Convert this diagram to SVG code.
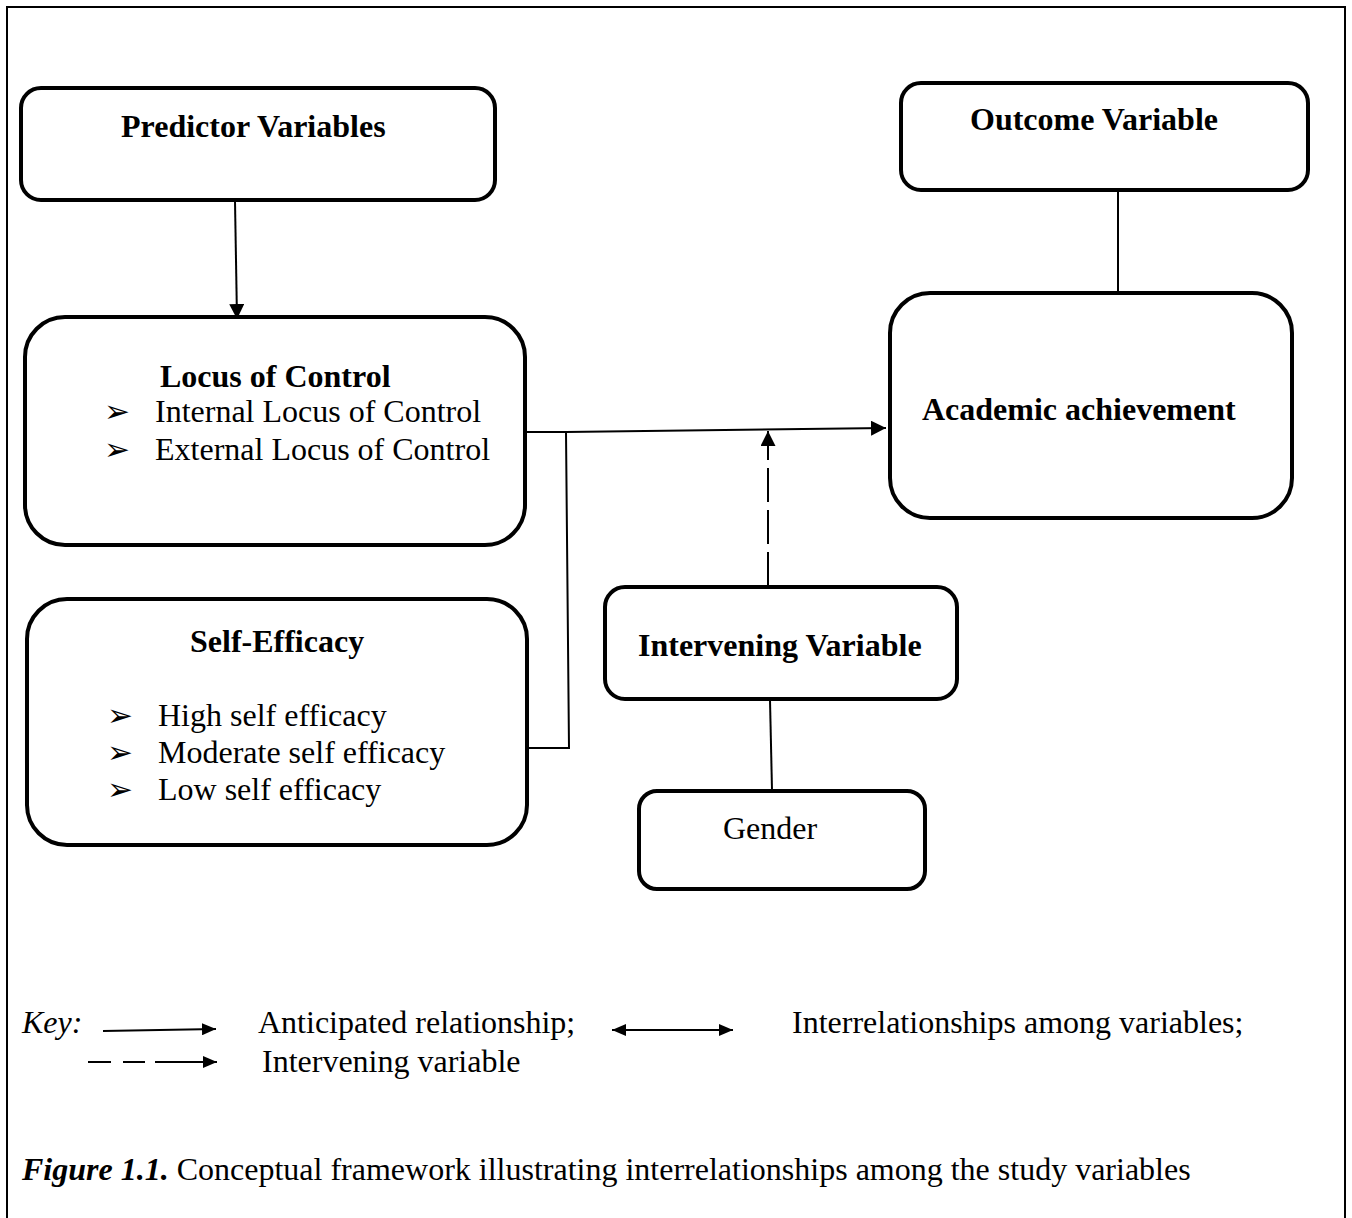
<svg xmlns="http://www.w3.org/2000/svg" width="1352" height="1218" viewBox="0 0 1352 1218">
<style>
  .box { fill: #ffffff; stroke: #000000; stroke-width: 4; }
  .ln { fill: none; stroke: #000000; stroke-width: 2; }
  .t { font-family: "Liberation Serif", "Times New Roman", serif; font-size: 32px; fill: #000000; }
  .b { font-weight: bold; }
  .bul { font-family: "DejaVu Sans", sans-serif; font-size: 31px; fill: #000000; }
</style>
<defs>
  <marker id="ah" viewBox="0 0 10 10" refX="10" refY="5" markerWidth="15" markerHeight="15" markerUnits="userSpaceOnUse" orient="auto-start-reverse">
    <path d="M0,0 L10,5 L0,10 z" fill="#000000"/>
  </marker>
  <marker id="ahs" viewBox="0 0 10 10" refX="10" refY="5" markerWidth="14" markerHeight="12" markerUnits="userSpaceOnUse" orient="auto-start-reverse" preserveAspectRatio="none">
    <path d="M0,0 L10,5 L0,10 z" fill="#000000"/>
  </marker>
</defs>
<rect width="1352" height="1218" fill="#ffffff"/>
<path class="ln" d="M7,1218 V7 H1345 V1218"/>

<g id="predictor">
  <rect class="box" x="21" y="88" width="474" height="112" rx="20"/>
  <text class="t b" x="121" y="137">Predictor Variables</text>
</g>
<g id="outcome">
  <rect class="box" x="901" y="83" width="407" height="107" rx="20"/>
  <text class="t b" x="970" y="130">Outcome Variable</text>
</g>
<g id="locus">
  <rect class="box" x="25" y="317" width="500" height="228" rx="40"/>
  <text class="t b" x="160" y="387">Locus of Control</text>
  <text class="bul" x="104" y="422">➢</text>
  <text class="t" x="155" y="422">Internal Locus of Control</text>
  <text class="bul" x="104" y="460">➢</text>
  <text class="t" x="155" y="460">External Locus of Control</text>
</g>
<g id="academic">
  <rect class="box" x="890" y="293" width="402" height="225" rx="40"/>
  <text class="t b" x="922" y="420">Academic achievement</text>
</g>
<g id="selfefficacy">
  <rect class="box" x="27" y="599" width="500" height="246" rx="40"/>
  <text class="t b" x="190" y="652">Self-Efficacy</text>
  <text class="bul" x="107" y="726">➢</text>
  <text class="t" x="158" y="726">High self efficacy</text>
  <text class="bul" x="107" y="763">➢</text>
  <text class="t" x="158" y="763">Moderate self efficacy</text>
  <text class="bul" x="107" y="800">➢</text>
  <text class="t" x="158" y="800">Low self efficacy</text>
</g>
<g id="intervening">
  <rect class="box" x="605" y="587" width="352" height="112" rx="20"/>
  <text class="t b" x="638" y="656">Intervening Variable</text>
</g>
<g id="gender">
  <rect class="box" x="639" y="791" width="286" height="98" rx="18"/>
  <text class="t" x="723" y="839">Gender</text>
</g>

<g id="connectors">
  <line class="ln" x1="235" y1="201" x2="237" y2="319" marker-end="url(#ah)"/>
  <line class="ln" x1="1118" y1="191" x2="1118" y2="292"/>
  <path class="ln" d="M527,432 H566 L886,428" marker-end="url(#ah)"/>
  <path class="ln" d="M566,432 L569,748 H529"/>
  <line class="ln" x1="768" y1="586" x2="768" y2="431" stroke-dasharray="34,8" marker-end="url(#ah)"/>
  <line class="ln" x1="770" y1="700" x2="772" y2="790"/>
</g>

<g id="key">
  <text class="t" x="22" y="1033" font-style="italic">Key:</text>
  <line class="ln" x1="103" y1="1031" x2="216" y2="1029" stroke-width="3" marker-end="url(#ahs)"/>
  <text class="t" x="258" y="1033">Anticipated relationship;</text>
  <line class="ln" x1="612" y1="1030" x2="733" y2="1030" stroke-width="3" marker-start="url(#ahs)" marker-end="url(#ahs)"/>
  <text class="t" x="792" y="1033">Interrelationships among variables;</text>
  <line class="ln" x1="88" y1="1062" x2="217" y2="1062" stroke-dasharray="23,12,22,10,200" marker-end="url(#ahs)"/>
  <text class="t" x="262" y="1072">Intervening variable</text>
  <text class="t" x="22" y="1180"><tspan class="b" font-style="italic">Figure 1.1.</tspan> Conceptual framework illustrating interrelationships among the study variables</text>
</g>
</svg>
